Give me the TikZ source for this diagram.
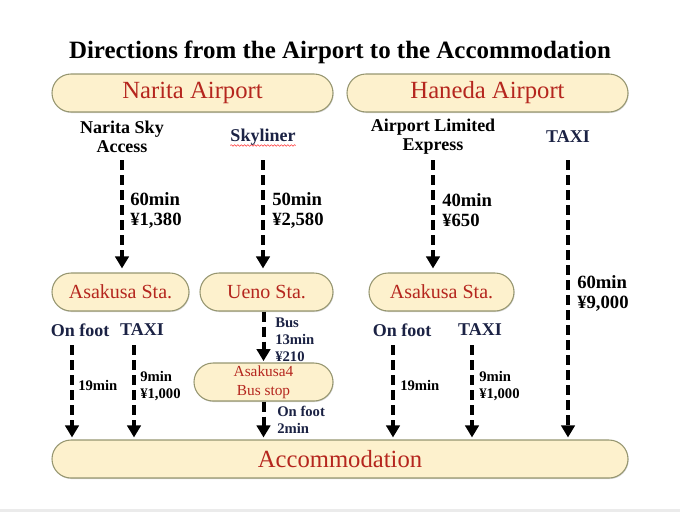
\documentclass[tikz,border=0pt]{standalone}
\usepackage{fontspec}
\setmainfont{Liberation Serif}
\usetikzlibrary{positioning,arrows.meta,shapes.misc,shadows,decorations.pathmorphing}

\definecolor{boxfill}{RGB}{253,241,205}
\definecolor{boxline}{RGB}{150,150,112}
\definecolor{placered}{RGB}{181,38,30}
\definecolor{navy}{RGB}{27,34,68}

\tikzset{
  place/.style={rounded rectangle, draw=boxline, fill=boxfill, line width=0.8pt,
    text=placered, minimum height=28.5pt, inner sep=0pt,
    drop shadow={shadow xshift=0.5pt, shadow yshift=-0.8pt, fill=black!30}},
  airport/.style={font=\fontsize{18.5}{22}\selectfont},
  station/.style={font=\fontsize{15}{18}\selectfont},
  stop/.style={font=\fontsize{11.5}{14.25}\selectfont, align=center},
  headline/.style={font=\bfseries\fontsize{18.7}{22}\selectfont, inner sep=0pt},
  mode/.style={font=\bfseries\fontsize{13.5}{14.25}\selectfont, align=center, inner sep=0pt},
  info/.style={font=\bfseries\fontsize{14}{15}\selectfont, align=left, inner sep=0pt, anchor=west},
  small/.style={font=\bfseries\fontsize{11}{12.75}\selectfont, align=left, inner sep=0pt, anchor=west},
  road/.style={line width=3pt, dash pattern=on 7.5pt off 3.75pt,
    -{Triangle[width=10pt,length=9pt]}},
  squiggle/.style={draw=red!80, line width=0.4pt,
    decorate, decoration={snake, amplitude=0.6pt, segment length=2.5pt}}
}

\begin{document}
\begin{tikzpicture}[x=0.75pt,y=-0.75pt]
  \useasboundingbox (0,0) rectangle (680,512);
  \fill[black!8] (0,509) rectangle (680,512);

  % Title
  \node[headline] (title) at (340,52) {Directions from the Airport to the Accommodation};

  % Airports
  \node[place, airport, minimum width=210.75pt] (narita) at (192.5,93) {Narita Airport};
  \node[place, airport, minimum width=210.75pt] (haneda) at (487.5,93) {Haneda Airport};

  % Lines from the airports
  \node[mode] (skyacc) at (122,137) {Narita Sky\\Access};
  \node[mode, text=navy] (skyliner) at (263,137) {Skyliner};
  \draw[squiggle] (skyliner.south west) -- (skyliner.south east);
  \node[mode] (ltdexp) at (433,137) {Airport Limited\\Express};
  \node[mode, text=navy] (taxiH) at (568,137) {TAXI};

  % Stations
  \node[place, station, minimum width=102.75pt] (asaN) at (120.5,292) {Asakusa Sta.};
  \node[place, station, minimum width=99.75pt] (ueno) at (266.5,292) {Ueno Sta.};
  \node[place, station, minimum width=108.75pt] (asaH) at (441.5,292) {Asakusa Sta.};
  \node[place, stop, minimum width=104.25pt] (busstop) at (263.5,382) {Asakusa4\\Bus stop};

  % Accommodation
  \node[place, airport, minimum width=432pt] (accom) at (340,459) {Accommodation};

  % Rows where the arrows start
  \coordinate (rowA) at (0,160);
  \coordinate (rowB) at (0,345);

  % Airport to station
  \draw[road, shorten >=3pt] (skyacc |- rowA) -- (skyacc |- asaN.north);
  \node[info] (t1) at (130,210) {60min\\¥1,380};
  \draw[road, shorten >=3pt] (skyliner |- rowA) -- (skyliner |- ueno.north);
  \node[info] (t2) at (272,210) {50min\\¥2,580};
  \draw[road, shorten >=3pt] (ltdexp |- rowA) -- (ltdexp |- asaH.north);
  \node[info] (t3) at (442,210) {40min\\¥650};
  \draw[road, shorten >=1.5pt] (taxiH |- rowA) -- (taxiH |- accom.north);
  \node[info] (t4) at (577,293) {60min\\¥9,000};

  % From Asakusa Sta. (Narita)
  \node[mode, text=navy] (footN) at (80,330) {On foot};
  \node[mode, text=navy] (cabN) at (142,330) {TAXI};
  \coordinate (footNx) at (72,0);
  \coordinate (cabNx) at (134,0);
  \draw[road, shorten >=1.5pt] (footNx |- rowB) -- (footNx |- accom.north);
  \node[small] (t5) at (78,385) {19min};
  \draw[road, shorten >=1.5pt] (cabNx |- rowB) -- (cabNx |- accom.north);
  \node[small] (t6) at (140,386) {9min\\¥1,000};

  % From Ueno Sta.
  \draw[road, shorten >=1pt] (busstop |- ueno.south) -- (busstop.north);
  \node[small, text=navy] (t7) at (275,340) {Bus\\13min\\¥210};
  \draw[road, shorten >=1.5pt] (busstop.south) -- (busstop |- accom.north);
  \node[small, text=navy] (t8) at (277,420) {On foot\\2min};

  % From Asakusa Sta. (Haneda)
  \node[mode, text=navy] (footH) at (402,330) {On foot};
  \node[mode, text=navy] (cabH) at (480,330) {TAXI};
  \coordinate (footHx) at (393,0);
  \coordinate (cabHx) at (472,0);
  \draw[road, shorten >=1.5pt] (footHx |- rowB) -- (footHx |- accom.north);
  \node[small] (t9) at (400,385) {19min};
  \draw[road, shorten >=1.5pt] (cabHx |- rowB) -- (cabHx |- accom.north);
  \node[small] (t10) at (479,386) {9min\\¥1,000};
\end{tikzpicture}
\end{document}
